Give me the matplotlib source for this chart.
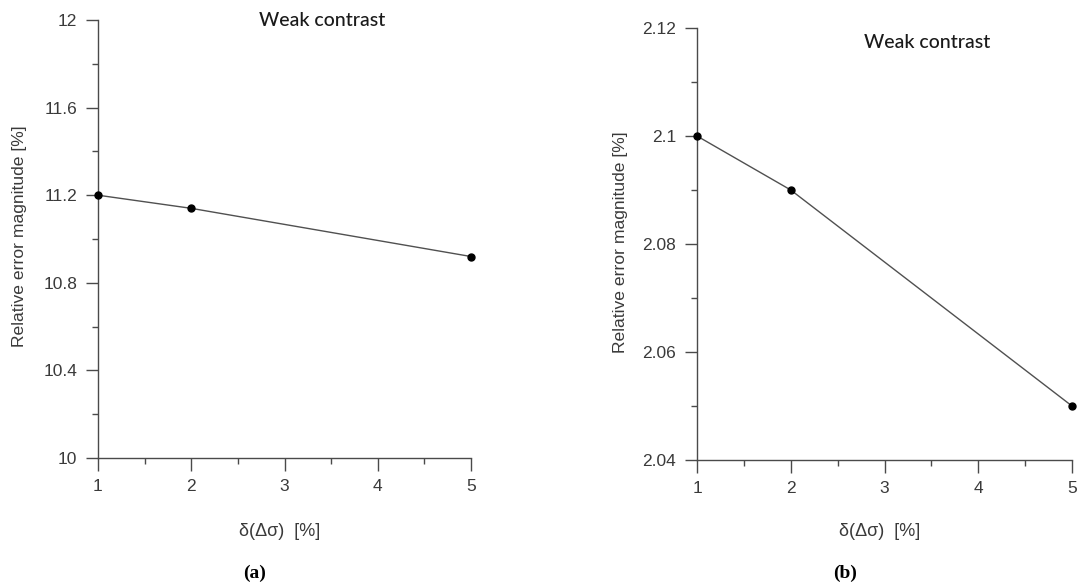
import matplotlib
matplotlib.use("Agg")
import matplotlib.pyplot as plt
from matplotlib.ticker import FixedLocator, MultipleLocator
from matplotlib import font_manager

# ---- data ----
x_vals = [1, 2, 5]
err_a = [11.2, 11.14, 10.92]
err_b = [2.10, 2.09, 2.05]
x_ticks = [1, 2, 3, 4, 5]
yticks_a = [10, 10.4, 10.8, 11.2, 11.6, 12]
ylabels_a = ["10", "10.4", "10.8", "11.2", "11.6", "12"]
yticks_b = [2.04, 2.06, 2.08, 2.10, 2.12]
ylabels_b = ["2.04", "2.06", "2.08", "2.1", "2.12"]
title_text = "Weak contrast"
xlabel_text = "δ(Δσ)  [%]"
ylabel_text = "Relative error magnitude [%]"

names = {f.name for f in font_manager.fontManager.ttflist}
narrow = "Liberation Sans Narrow" if "Liberation Sans Narrow" in names else "Liberation Sans"
tick_fam = [narrow, "DejaVu Sans"]
lab_fam = ["Liberation Sans", "DejaVu Sans"]
title_fam = ["Lato", "DejaVu Sans"]

fig = plt.figure(figsize=(10.8, 5.87), dpi=100)
axA = fig.add_axes([98/1080, 1-458/587, (471-98)/1080, (458-20)/587])
axB = fig.add_axes([697/1080, 1-460/587, (1072-697)/1080, (460-28)/587])

spine_c = "#4a4a4a"
text_c = "#3a3a3a"

def style(ax, yvals, yt, yl, ylim, yminor):
    ax.plot(x_vals, yvals, color="#505050", lw=1.0, marker="o",
            ms=5, mfc="black", mec="black", zorder=3, clip_on=False)
    ax.set_xlim(1, 5)
    ax.set_ylim(*ylim)
    for s in ["top", "right"]:
        ax.spines[s].set_visible(False)
    for s in ["left", "bottom"]:
        ax.spines[s].set_color(spine_c)
        ax.spines[s].set_linewidth(1.0)
    ax.xaxis.set_major_locator(FixedLocator(x_ticks))
    ax.set_xticklabels([str(v) for v in x_ticks])
    ax.xaxis.set_minor_locator(MultipleLocator(0.5))
    ax.yaxis.set_major_locator(FixedLocator(yt))
    ax.set_yticklabels(yl)
    ax.yaxis.set_minor_locator(MultipleLocator(yminor))
    ax.tick_params(which="major", length=9, width=1.0, color=spine_c,
                   labelsize=12.5, labelcolor=text_c, pad=6)
    ax.tick_params(which="minor", length=4.5, width=1.0, color=spine_c)
    for lab in ax.get_xticklabels() + ax.get_yticklabels():
        lab.set_family(tick_fam)

style(axA, err_a, yticks_a, ylabels_a, (10, 12), 0.2)
style(axB, err_b, yticks_b, ylabels_b, (2.04, 2.12), 0.01)

# titles
fig.text(322/1080, 1-20/587, title_text, ha="center", va="center",
         fontsize=14, family=title_fam, color="#1a1a1a", weight="medium")
fig.text(927/1080, 1-42/587, title_text, ha="center", va="center",
         fontsize=14, family=title_fam, color="#1a1a1a", weight="medium")

# y labels
fig.text(20/1080, 1-236/587, ylabel_text, rotation=90, ha="center", va="center",
         fontsize=12.6, family=lab_fam, color=text_c)
fig.text(620/1080, 1-242/587, ylabel_text, rotation=90, ha="center", va="center",
         fontsize=12.6, family=lab_fam, color=text_c)

# x labels
fig.text(280/1080, 1-532/587, xlabel_text, ha="center", va="center",
         fontsize=13, family=lab_fam, color=text_c)
fig.text(880/1080, 1-532/587, xlabel_text, ha="center", va="center",
         fontsize=13, family=lab_fam, color=text_c)

# panel labels
fig.text(255/1080, 1-573/587, "(a)", ha="center", va="center",
         fontsize=14, family=["Liberation Serif", "DejaVu Serif"], weight="bold")
fig.text(845/1080, 1-573/587, "(b)", ha="center", va="center",
         fontsize=14, family=["Liberation Serif", "DejaVu Serif"], weight="bold")

fig.savefig("out.png", dpi=100)
